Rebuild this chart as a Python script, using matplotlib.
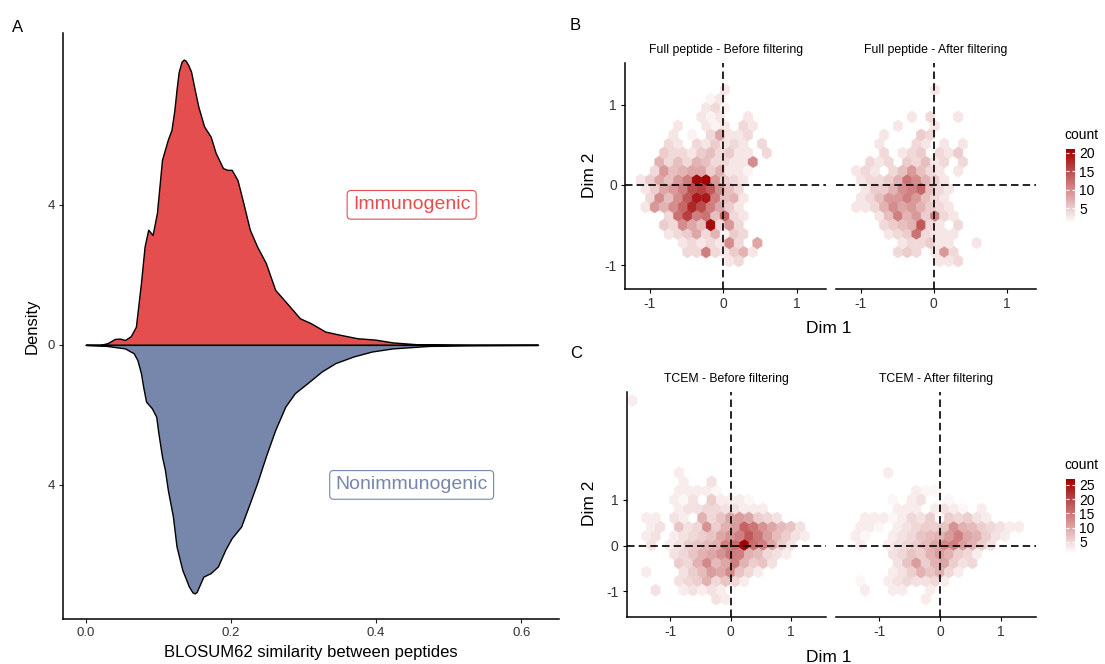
import numpy as np
import matplotlib
matplotlib.use("Agg")
import matplotlib.pyplot as plt
from matplotlib.colors import LinearSegmentedColormap, Normalize
import matplotlib.cm as cm

plt.rcParams['font.family'] = ['Liberation Sans', 'DejaVu Sans']

# ---------------- Panel A : mirrored densities ----------------
imm_x = [0.0, 0.02, 0.03, 0.04, 0.047, 0.054, 0.062, 0.069, 0.076, 0.081, 0.086, 0.092,
         0.098, 0.105, 0.113, 0.118, 0.122, 0.125, 0.128, 0.132, 0.135, 0.1375, 0.141, 0.145,
         0.15, 0.155, 0.163, 0.172, 0.179, 0.189, 0.195, 0.201, 0.209, 0.216, 0.226, 0.236,
         0.248, 0.261, 0.275, 0.295, 0.31, 0.33, 0.35, 0.374, 0.399, 0.423, 0.455, 0.5,
         0.531, 0.623]
imm_d = [0.0, 0.0, 0.05, 0.17, 0.18, 0.14, 0.25, 0.52, 1.77, 2.81, 3.29, 3.14,
         3.77, 5.29, 5.86, 6.14, 6.7, 7.29, 7.8, 8.09, 8.15, 8.12, 8.0, 7.81,
         7.3, 6.81, 6.24, 5.95, 5.48, 5.05, 5.0, 5.0, 4.71, 4.14, 3.29, 2.81,
         2.34, 1.57, 1.24, 0.76, 0.62, 0.38, 0.29, 0.19, 0.15, 0.07, 0.02, 0.005,
         0.0, 0.0]
non_x = [0.0, 0.029, 0.054, 0.066, 0.071, 0.076, 0.079, 0.083, 0.091, 0.097, 0.1, 0.105,
         0.109, 0.113, 0.12, 0.125, 0.133, 0.142, 0.147, 0.15, 0.153, 0.155, 0.162, 0.172,
         0.182, 0.192, 0.201, 0.214, 0.226, 0.236, 0.248, 0.261, 0.275, 0.288, 0.305, 0.325,
         0.344, 0.369, 0.394, 0.423, 0.473, 0.531, 0.623]
non_d = [0.0, 0.03, 0.1, 0.24, 0.43, 0.81, 1.19, 1.62, 1.81, 2.05, 2.52, 3.19,
         3.57, 4.14, 4.9, 5.76, 6.43, 6.9, 7.07, 7.1, 7.05, 6.95, 6.62, 6.52,
         6.33, 5.86, 5.52, 5.19, 4.52, 3.95, 3.19, 2.43, 1.76, 1.38, 1.1, 0.76,
         0.52, 0.33, 0.19, 0.1, 0.03, 0.01, 0.0]
a_xticks = [0.0, 0.2, 0.4, 0.6]
a_xticklabels = ["0.0", "0.2", "0.4", "0.6"]
a_yticks = [-4, 0, 4]
a_yticklabels = ["4", "0", "4"]

# ---------------- Panel B : hexbin counts {Dim2: {Dim1: count}} ----------------
b_before = {
    1.182: {0.018: 3},
    1.070: {-0.1725: 2, -0.0455: 3},
    0.958: {-0.236: 3, -0.109: 4, 0.018: 2},
    0.846: {-0.2995: 3, -0.1725: 2, -0.0455: 3, 0.3355: 3},
    0.734: {-0.617: 3, -0.236: 3, -0.109: 2, 0.018: 3, 0.272: 4, 0.399: 3},
    0.622: {-0.6805: 3, -0.4265: 2, -0.1725: 4, -0.0455: 8, 0.0815: 3, 0.2085: 3, 0.3355: 4},
    0.510: {-0.744: 4, -0.617: 3, -0.363: 4, -0.236: 3, -0.109: 5, 0.018: 3, 0.145: 4, 0.272: 3, 0.526: 4},
    0.398: {-0.8075: 5, -0.6805: 4, -0.5535: 4, -0.4265: 3, -0.2995: 5, -0.1725: 6, -0.0455: 4,
            0.0815: 5, 0.2085: 3, 0.3355: 3, 0.5895: 4},
    0.286: {-0.871: 7, -0.744: 4, -0.617: 6, -0.490: 4, -0.363: 7, -0.236: 6, -0.109: 4, 0.018: 4,
            0.145: 3, 0.272: 3, 0.399: 10},
    0.174: {-0.9345: 4, -0.8075: 9, -0.6805: 6, -0.5535: 7, -0.4265: 8, -0.2995: 8, -0.1725: 5,
            -0.0455: 7, 0.0815: 3, 0.2085: 3, 0.3355: 2},
    0.062: {-1.125: 3, -0.998: 5, -0.871: 8, -0.744: 6, -0.617: 9, -0.490: 11, -0.363: 20, -0.236: 21,
            -0.109: 9, 0.018: 5, 0.145: 4, 0.272: 3},
    -0.050: {-1.0615: 3, -0.9345: 5, -0.8075: 8, -0.6805: 9, -0.5535: 11, -0.4265: 15, -0.2995: 16,
             -0.1725: 14, -0.0455: 10, 0.0815: 6, 0.2085: 4},
    -0.162: {-0.998: 4, -0.871: 10, -0.744: 6, -0.617: 10, -0.490: 14, -0.363: 19, -0.236: 19,
             -0.109: 11, 0.018: 6, 0.145: 7, 0.272: 3},
    -0.274: {-1.0615: 3, -0.9345: 9, -0.8075: 7, -0.6805: 10, -0.5535: 13, -0.4265: 18, -0.2995: 15,
             -0.1725: 11, -0.0455: 8, 0.0815: 5, 0.2085: 3},
    -0.386: {-0.744: 4, -0.617: 12, -0.490: 16, -0.363: 11, -0.236: 12, -0.109: 6, 0.018: 13,
             0.145: 4, 0.272: 3},
    -0.498: {-0.8075: 5, -0.6805: 4, -0.5535: 10, -0.4265: 8, -0.2995: 6, -0.1725: 20, -0.0455: 4,
             0.0815: 9, 0.2085: 4},
    -0.610: {-0.744: 3, -0.617: 4, -0.490: 5, -0.363: 8, -0.236: 4, -0.109: 7, 0.018: 2, 0.145: 5, 0.272: 4},
    -0.722: {-0.5535: 3, -0.4265: 4, -0.2995: 3, -0.1725: 4, -0.0455: 3, 0.0815: 10, 0.2085: 4, 0.4625: 8},
    -0.834: {-0.490: 4, -0.363: 4, -0.236: 11, -0.109: 4, 0.018: 3, 0.145: 5, 0.272: 7, 0.399: 3},
    -0.946: {0.0815: 3, 0.2085: 4},
}
b_after = {
    1.182: {0.018: 3},
    0.846: {-0.2995: 3, -0.0455: 4, 0.3355: 3},
    0.734: {-0.490: 3, 0.018: 3},
    0.622: {-0.6805: 3, -0.1725: 5, -0.0455: 4},
    0.510: {-0.744: 3, -0.236: 4, -0.109: 3, 0.145: 3, 0.399: 3},
    0.398: {-0.6805: 4, -0.4265: 3, -0.2995: 4, -0.1725: 5, 0.0815: 4, 0.2085: 3, 0.3355: 5},
    0.286: {-0.871: 4, -0.744: 3, -0.617: 4, -0.363: 5, -0.236: 4, -0.109: 6, 0.018: 3, 0.145: 4, 0.399: 4},
    0.174: {-1.0615: 3, -0.9345: 4, -0.8075: 3, -0.5535: 4, -0.4265: 6, -0.2995: 9, -0.1725: 6,
            -0.0455: 4, 0.0815: 3, 0.3355: 3},
    0.062: {-0.998: 3, -0.871: 4, -0.744: 4, -0.617: 5, -0.490: 7, -0.363: 12, -0.236: 10, -0.109: 7,
            0.018: 5, 0.145: 3},
    -0.050: {-0.9345: 3, -0.8075: 5, -0.6805: 5, -0.5535: 7, -0.4265: 10, -0.2995: 11, -0.1725: 13,
             -0.0455: 6, 0.0815: 4, 0.2085: 3},
    -0.162: {-0.998: 3, -0.871: 4, -0.744: 6, -0.617: 9, -0.490: 9, -0.363: 11, -0.236: 9, -0.109: 6,
             0.018: 4, 0.145: 3},
    -0.274: {-1.0615: 3, -0.9345: 3, -0.8075: 4, -0.6805: 7, -0.5535: 10, -0.4265: 8, -0.2995: 9,
             -0.1725: 7, -0.0455: 5, 0.0815: 4, 0.2085: 3},
    -0.386: {-0.744: 3, -0.617: 6, -0.490: 11, -0.363: 7, -0.236: 9, -0.109: 5, 0.018: 11, 0.145: 4, 0.272: 3},
    -0.498: {-0.6805: 4, -0.5535: 5, -0.4265: 6, -0.2995: 7, -0.1725: 14, -0.0455: 4, 0.0815: 3, 0.3355: 4},
    -0.610: {-0.617: 3, -0.490: 4, -0.363: 5, -0.236: 12, -0.109: 4, 0.018: 3, 0.145: 3, 0.272: 3},
    -0.722: {-0.4265: 3, -0.2995: 4, -0.1725: 4, -0.0455: 5, 0.0815: 3, 0.2085: 3, 0.5895: 3},
    -0.834: {-0.490: 4, -0.363: 5, -0.236: 4, 0.018: 3, 0.145: 9, 0.272: 4},
    -0.946: {0.0815: 3, 0.2085: 3, 0.3355: 4},
}

# ---------------- Panel C : hexbin counts {Dim2: {Dim1: count}} ----------------
c_before = {
    3.167: {-1.624: 3},
    1.591: {-0.854: 3},
    1.394: {-0.777: 3, -0.315: 4},
    1.197: {-0.854: 3, -0.700: 3, -0.546: 3, -0.392: 3, -0.238: 2},
    1.000: {-0.931: 3, -0.777: 2, -0.623: 4, -0.315: 6, -0.161: 3, -0.007: 3, 0.147: 3, 0.301: 2},
    0.803: {-0.854: 3, -0.700: 4, -0.546: 4, -0.392: 5, -0.238: 5, -0.084: 4, 0.070: 4, 0.224: 3,
            0.378: 3, 0.532: 3},
    0.606: {-1.393: 3, -1.239: 3, -0.931: 4, -0.777: 3, -0.469: 9, -0.315: 5, -0.161: 7, -0.007: 10,
            0.147: 11, 0.301: 10, 0.455: 6, 0.609: 5, 0.763: 4},
    0.409: {-1.316: 3, -1.162: 4, -0.854: 7, -0.700: 4, -0.546: 5, -0.392: 12, -0.238: 6, -0.084: 9,
            0.070: 11, 0.224: 17, 0.378: 15, 0.532: 12, 0.686: 10, 0.840: 8, 0.994: 7, 1.148: 4},
    0.212: {-1.393: 3, -1.239: 4, -0.931: 3, -0.777: 4, -0.623: 5, -0.469: 6, -0.315: 7, -0.161: 10,
            -0.007: 12, 0.147: 14, 0.301: 18, 0.455: 15, 0.609: 11, 0.763: 8, 0.917: 6, 1.071: 4, 1.225: 3},
    0.015: {-1.316: 4, -1.008: 3, -0.854: 4, -0.700: 6, -0.546: 7, -0.392: 8, -0.238: 9, -0.084: 14,
            0.070: 16, 0.224: 27, 0.378: 16, 0.532: 14, 0.686: 10, 0.840: 6, 0.994: 4},
    -0.182: {-0.931: 4, -0.777: 5, -0.623: 7, -0.469: 9, -0.315: 10, -0.161: 12, -0.007: 15, 0.147: 14,
             0.301: 9, 0.455: 8, 0.609: 5, 0.763: 4, 0.917: 3},
    -0.379: {-0.854: 6, -0.700: 5, -0.546: 9, -0.392: 13, -0.238: 8, -0.084: 10, 0.070: 14, 0.224: 9,
             0.378: 6, 0.532: 7, 0.686: 4},
    -0.576: {-1.393: 3, -0.777: 4, -0.623: 6, -0.469: 8, -0.315: 11, -0.161: 10, -0.007: 13, 0.147: 7,
             0.301: 5, 0.455: 3},
    -0.773: {-0.854: 4, -0.700: 5, -0.546: 6, -0.392: 9, -0.238: 5, -0.084: 7, 0.070: 5, 0.224: 3},
    -0.970: {-1.239: 4, -0.777: 3, -0.623: 4, -0.469: 3, -0.315: 4, -0.161: 3},
    -1.167: {-0.238: 4, -0.084: 3},
}
c_after = {
    1.591: {-0.854: 3},
    1.197: {-0.392: 3, -0.238: 2, -0.084: 2},
    1.000: {-0.777: 2, -0.469: 3, -0.315: 4, 0.147: 2},
    0.803: {-0.700: 3, -0.546: 3, -0.392: 3, -0.084: 3, 0.070: 4, 0.224: 3, 0.378: 2, 0.686: 3},
    0.606: {-1.239: 3, -1.085: 3, -0.931: 3, -0.777: 2, -0.623: 3, -0.469: 5, -0.315: 4, -0.161: 6,
            -0.007: 2, 0.147: 6, 0.301: 5, 0.455: 6, 0.609: 4, 0.763: 3},
    0.409: {-1.316: 3, -1.162: 3, -1.008: 2, -0.700: 3, -0.546: 4, -0.392: 5, -0.238: 6, -0.084: 6,
            0.070: 7, 0.224: 12, 0.378: 9, 0.532: 8, 0.686: 6, 0.840: 5, 0.994: 4, 1.148: 3, 1.302: 3},
    0.212: {-1.393: 3, -1.239: 2, -0.777: 3, -0.623: 4, -0.469: 5, -0.315: 7, -0.161: 8, -0.007: 9,
            0.147: 11, 0.301: 14, 0.455: 10, 0.609: 9, 0.763: 6, 0.917: 4, 1.071: 3},
    0.015: {-1.316: 3, -0.854: 3, -0.700: 4, -0.546: 5, -0.392: 6, -0.238: 8, -0.084: 10, 0.070: 13,
            0.224: 14, 0.378: 11, 0.532: 9, 0.686: 6, 0.840: 4},
    -0.182: {-0.777: 4, -0.623: 5, -0.469: 7, -0.315: 6, -0.161: 9, -0.007: 11, 0.147: 9, 0.301: 6,
             0.455: 5, 0.609: 3},
    -0.379: {-0.700: 4, -0.546: 7, -0.392: 11, -0.238: 6, -0.084: 9, 0.070: 10, 0.224: 6, 0.378: 4, 0.532: 5},
    -0.576: {-0.777: 3, -0.623: 4, -0.469: 6, -0.315: 9, -0.161: 7, -0.007: 9, 0.147: 5, 0.301: 3},
    -0.773: {-1.316: 2, -0.854: 3, -0.700: 4, -0.546: 5, -0.392: 4, -0.238: 4, -0.084: 5, 0.070: 3},
    -0.970: {-1.239: 3, -0.777: 3, -0.623: 3, -0.161: 3},
    -1.167: {-0.238: 3},
}

b_titles = ["Full peptide - Before filtering", "Full peptide - After filtering"]
c_titles = ["TCEM - Before filtering", "TCEM - After filtering"]
b_ticks = [5, 10, 15, 20]
c_ticks = [5, 10, 15, 20, 25]

# ---------------- styling ----------------
W, H = 1105, 664
RED = "#E44E4F"
BLUE = "#7786AB"
cmap = LinearSegmentedColormap.from_list("wr", ["#FFFFFF", "#A00000"])
norm_b = Normalize(vmin=1, vmax=21)
norm_c = Normalize(vmin=1, vmax=27)
DASH = (0, (4.5, 2.5))

# hex lattice settings
grid_b = dict(gridsize=(17, 12), extent=(-1.379, 0.780, -1.282, 1.406))
grid_c = dict(gridsize=(22, 13), extent=(-1.778, 1.610, -1.561, 3.561))


def px_axes(x0, y0, x1, y1):
    return [x0 / W, 1 - y1 / H, (x1 - x0) / W, (y1 - y0) / H]


def flatten(d):
    xs, ys, cs = [], [], []
    for yv, row in d.items():
        for xv, cv in row.items():
            xs.append(xv)
            ys.append(yv)
            cs.append(cv)
    return np.array(xs), np.array(ys), np.array(cs, dtype=float)


fig = plt.figure(figsize=(W / 100, H / 100), dpi=100)

# ---------- Panel A ----------
axA = fig.add_axes(px_axes(63.3, 33.3, 559, 619))
axA.fill_between(imm_x, imm_d, 0, facecolor=RED, edgecolor="black", linewidth=1.0)
axA.fill_between(non_x, -np.array(non_d), 0, facecolor=BLUE, edgecolor="black", linewidth=1.0)
axA.set_xlim(-0.031, 0.652)
axA.set_ylim(-7.83, 8.9)
axA.set_xticks(a_xticks)
axA.set_xticklabels(a_xticklabels)
axA.set_yticks(a_yticks)
axA.set_yticklabels(a_yticklabels)
for s in ["top", "right"]:
    axA.spines[s].set_visible(False)
for s in ["left", "bottom"]:
    axA.spines[s].set_linewidth(1.1)
axA.tick_params(length=3, width=0.8, labelsize=9.5, pad=3, colors="#222222", labelcolor="#333333")
axA.text(0.449, 4, "Immunogenic", color=RED, fontsize=14, ha="center", va="center",
         bbox=dict(boxstyle="round,pad=0.3,rounding_size=0.2", fc="white", ec=RED, lw=0.8))
axA.text(0.449, -4, "Nonimmunogenic", color=BLUE, fontsize=14, ha="center", va="center",
         bbox=dict(boxstyle="round,pad=0.3,rounding_size=0.2", fc="white", ec=BLUE, lw=0.8))
fig.text(311 / W, 1 - 653 / H, "BLOSUM62 similarity between peptides", fontsize=12,
         ha="center", va="center")
fig.text(32 / W, 1 - 326 / H, "Density", fontsize=12, rotation=90, ha="center", va="center")


def hex_facet(rect, data, grid, norm, title, xlim, ylim, yticks, first):
    ax = fig.add_axes(rect)
    x, y, c = flatten(data)
    ax.hexbin(x, y, C=c, reduce_C_function=np.sum, cmap=cmap, norm=norm,
              linewidths=0.3, edgecolors="face", **grid)
    ax.axhline(0, color="black", lw=1.2, ls=DASH, zorder=5)
    ax.axvline(0, color="black", lw=1.2, ls=DASH, zorder=5)
    ax.set_xlim(*xlim)
    ax.set_ylim(*ylim)
    ax.set_xticks([-1, 0, 1])
    ax.set_xticklabels(["-1", "0", "1"])
    ax.spines["top"].set_visible(False)
    ax.spines["right"].set_visible(False)
    ax.spines["bottom"].set_linewidth(1.1)
    if first:
        ax.set_yticks(yticks)
        ax.set_yticklabels([str(t) for t in yticks])
        ax.spines["left"].set_linewidth(1.1)
    else:
        ax.spines["left"].set_visible(False)
        ax.set_yticks([])
    ax.tick_params(length=3, width=0.8, labelsize=10, pad=3, labelcolor="#333333")
    ax.set_title(title, fontsize=8.8, pad=7)
    return ax


def colorbar(rect, norm, ticks, title_xy):
    cax = fig.add_axes(rect)
    cb = fig.colorbar(cm.ScalarMappable(norm=norm, cmap=cmap), cax=cax)
    cb.outline.set_visible(False)
    cb.set_ticks(ticks)
    cax.tick_params(which="both", left=True, right=True, labelleft=False, labelright=True,
                    direction="in", color="white", length=2, width=0.8, labelsize=10, pad=3)
    fig.text(title_xy[0] / W, 1 - title_xy[1] / H, "count", fontsize=10, ha="left", va="center")


# ---------- Panel B ----------
b_xlim = (-1.335, 1.396)
b_ylim = (-1.29, 1.52)
hex_facet(px_axes(625.3, 62.7, 826, 288.7), b_before, grid_b, norm_b, b_titles[0], b_xlim, b_ylim, [-1, 0, 1], True)
hex_facet(px_axes(836.3, 62.7, 1035.5, 288.7), b_after, grid_b, norm_b, b_titles[1], b_xlim, b_ylim, [-1, 0, 1], False)
fig.text(829 / W, 1 - 329 / H, "Dim 1", fontsize=12.5, ha="center", va="center")
fig.text(589.5 / W, 1 - 175 / H, "Dim 2", fontsize=12.5, rotation=90, ha="center", va="center")
colorbar(px_axes(1066, 149.3, 1075, 223), norm_b, b_ticks, (1064, 135))

# ---------- Panel C ----------
c_xlim = (-1.716, 1.573)
c_ylim = (-1.55, 3.36)
hex_facet(px_axes(626.7, 391.7, 826, 616.7), c_before, grid_c, norm_c, c_titles[0], c_xlim, c_ylim, [-1, 0, 1], True)
hex_facet(px_axes(836, 391.7, 1035.5, 616.7), c_after, grid_c, norm_c, c_titles[1], c_xlim, c_ylim, [-1, 0, 1], False)
fig.text(829 / W, 1 - 658 / H, "Dim 1", fontsize=12.5, ha="center", va="center")
fig.text(589.5 / W, 1 - 503 / H, "Dim 2", fontsize=12.5, rotation=90, ha="center", va="center")
colorbar(px_axes(1066, 479.3, 1075, 553.3), norm_c, c_ticks, (1064, 465))

# panel letters
fig.text(18 / W, 1 - 27 / H, "A", fontsize=12, ha="center", va="center")
fig.text(575 / W, 1 - 26 / H, "B", fontsize=12, ha="center", va="center")
fig.text(576 / W, 1 - 354 / H, "C", fontsize=12, ha="center", va="center")

fig.savefig("out.png", dpi=100, facecolor="white")
